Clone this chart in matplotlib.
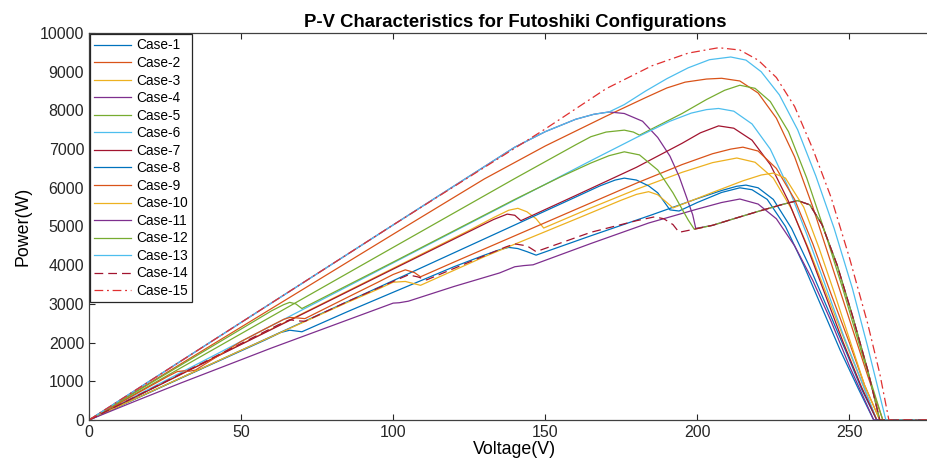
import matplotlib
matplotlib.use("Agg")
import matplotlib.pyplot as plt

plt.rcParams['font.family'] = ['Liberation Sans', 'DejaVu Sans']

##########
# P-V curves for 15 Futoshiki cases
# each case is a list of (voltage, power) points
##########

case01 = [(0,0),(40,1430),(58,2070),(63,2260),(66,2320),(68,2300),(70,2280),(85,2800),(100,3300),(120,3960),(130,4260),(135,4400),(138,4460),(141,4430),(144,4350),(147,4260),(165,4760),(185,5300),(200,5720),(208,5930),(213,6040),(216,6070),(220,6000),(225,5700),(231,4950),(237,3950),(243,2850),(249,1750),(254,800),(259,0),(280,0)]
case02 = [(0,0),(50,2400),(100,4800),(130,6230),(150,7080),(170,7850),(183,8330),(190,8580),(196,8730),(203,8810),(208,8830),(214,8760),(220,8450),(226,7800),(232,6800),(238,5500),(244,4050),(250,2600),(256,1150),(261,0),(280,0)]
case03 = [(0,0),(50,1960),(100,3920),(125,4900),(133,5230),(138,5420),(141,5470),(144,5380),(147,5200),(149.5,4960),(165,5480),(180,5960),(195,6400),(205,6650),(213,6770),(219,6660),(225,6250),(231,5450),(237,4350),(243,3150),(249,1950),(255,800),(259,0),(280,0)]
case04 = [(0,0),(50,2520),(100,5040),(140,7050),(150,7450),(160,7770),(166,7900),(171,7960),(176,7920),(182,7720),(187,7300),(191,6820),(194,6300),(196.5,5750),(198.5,5300),(199.5,4950),(205,5030),(212,5200),(220,5390),(228,5570),(233,5670),(237,5560),(241,5050),(246,4000),(251,2700),(256,1300),(260,0),(280,0)]
case05 = [(0,0),(50,2230),(100,4460),(140,6240),(160,7110),(165,7320),(170,7440),(176,7490),(179,7440),(181,7360),(186,7560),(195,7920),(203,8280),(209,8520),(214,8650),(219,8570),(224,8230),(230,7450),(236,6250),(242,4850),(248,3350),(254,1750),(261,0),(280,0)]
case06 = [(0,0),(50,2030),(100,4060),(150,6090),(165,6700),(180,7300),(191,7720),(198,7930),(203,8020),(207,8050),(212,7980),(218,7650),(224,7000),(230,6000),(236,4800),(242,3500),(248,2200),(254,1000),(259,0),(280,0)]
case07 = [(0,0),(50,1950),(100,3900),(125,4870),(133,5180),(137.5,5320),(140,5290),(142,5150),(160,5800),(180,6530),(195,7150),(201,7420),(207,7600),(212,7540),(218,7230),(224,6600),(230,5650),(236,4500),(242,3250),(248,2000),(254,850),(259,0),(280,0)]
case08 = [(0,0),(50,1800),(100,3600),(150,5400),(160,5760),(168,6050),(173,6200),(176,6250),(180,6200),(184,6050),(187,5870),(191,5430),(194,5400),(200,5620),(208,5880),(214,6000),(218,5950),(223,5700),(229,5000),(235,4000),(241,2900),(247,1800),(253,800),(258,0),(280,0)]
case09 = [(0,0),(26,1130),(29,1250),(31,1270),(33,1260),(35,1290),(50,2030),(60,2440),(64,2600),(66,2650),(68,2640),(71,2620),(85,3170),(95,3560),(100,3760),(104,3880),(107,3810),(109,3700),(120,4080),(150,5100),(165,5610),(180,6120),(195,6600),(205,6880),(211,7000),(215,7050),(220,6950),(226,6500),(232,5700),(238,4550),(244,3250),(250,2000),(255,900),(260,0),(280,0)]
case10 = [(0,0),(50,1800),(85,3040),(95,3380),(100,3560),(104,3580),(107,3520),(109,3480),(130,4220),(160,5190),(175,5680),(180,5830),(184,5900),(187,5820),(190,5620),(192,5480),(205,5880),(215,6180),(221,6330),(225,6380),(229,6250),(235,5500),(240,4450),(245,3300),(250,2100),(255,900),(260,0),(280,0)]
case11 = [(0,0),(15,480),(30,950),(60,1860),(100,3020),(102,3030),(105,3070),(120,3450),(135,3800),(140,3960),(143,3990),(146,4010),(165,4560),(184,5090),(200,5450),(208,5620),(214,5710),(220,5580),(226,5200),(232,4500),(238,3600),(244,2550),(250,1400),(254,700),(258,0),(280,0)]
case12 = [(0,0),(30,1410),(50,2350),(60,2820),(64,2980),(66,3040),(68,3000),(70,2880),(100,4080),(140,5700),(155,6280),(165,6640),(171,6830),(176,6930),(181,6850),(187,6460),(192,5870),(195,5450),(197,5170),(199,4930),(205,5030),(212,5200),(220,5390),(228,5570),(233,5670),(237,5560),(241,5050),(246,4000),(251,2700),(256,1300),(260,0),(280,0)]
case13 = [(0,0),(50,2520),(100,5040),(140,7050),(150,7450),(160,7770),(166,7900),(171,7960),(176,8150),(183,8500),(190,8820),(197,9100),(204,9310),(211,9380),(216,9300),(221,9000),(227,8400),(233,7500),(239,6300),(245,4950),(251,3400),(256,1900),(262,0),(280,0)]
case14 = [(0,0),(40,1580),(62,2450),(66,2590),(69,2560),(71,2550),(85,3060),(100,3580),(105,3750),(108,3700),(111,3620),(125,4080),(137,4470),(140,4550),(144,4500),(147,4350),(165,4850),(180,5150),(186,5250),(189,5200),(192,5050),(194,4850),(199,4930),(205,5030),(212,5200),(220,5390),(228,5570),(233,5670),(237,5560),(241,5050),(246,4000),(251,2700),(256,1300),(260,0),(280,0)]
case15 = [(0,0),(50,2520),(100,5040),(150,7520),(170,8560),(185,9150),(197,9480),(207,9620),(214,9560),(220,9300),(226,8850),(232,8100),(238,7000),(244,5750),(250,4200),(256,2500),(260,1200),(263,0),(280,0)]

cases = [case01, case02, case03, case04, case05, case06, case07, case08,
         case09, case10, case11, case12, case13, case14, case15]
labels = ['Case-%d' % (i + 1) for i in range(15)]

# matlab default colour order, cases 14/15 styled by hand
colors = ['#0072BD', '#D95319', '#EDB120', '#7E2F8E', '#77AC30', '#4DBEEE', '#A2142F',
          '#0072BD', '#D95319', '#EDB120', '#7E2F8E', '#77AC30', '#4DBEEE', '#A2142F', '#E03030']

fig = plt.figure(figsize=(9.27, 4.70), dpi=100)
ax = fig.add_axes([89/927, 50/470, 851.6/927, 387/470])

for i, pts in enumerate(cases):
    v, p = zip(*pts)
    line, = ax.plot(v, p, color=colors[i], lw=0.9, label=labels[i])
    if i == 13:
        line.set_dashes([7, 4])
    elif i == 14:
        line.set_dashes([7, 3, 1.5, 3])

ax.set_xlim(0, 280)
ax.set_ylim(0, 10000)
ax.set_xticks([0, 50, 100, 150, 200, 250])
ax.set_yticks(range(0, 10001, 1000))
ax.tick_params(direction='in', length=4.5, width=0.8, top=True, right=True,
               labelsize=11.5, colors='#262626')
for s in ax.spines.values():
    s.set_color('#404040')
    s.set_linewidth(0.9)

ax.set_xlabel('Voltage(V)', fontsize=12.8, labelpad=1)
ax.set_ylabel('Power(W)', fontsize=12.8, labelpad=6)
ax.set_title('P-V Characteristics for Futoshiki Configurations', fontsize=13.3,
             fontweight='bold', pad=4)

leg = ax.legend(loc='upper left', fontsize=9.8, frameon=True, fancybox=False,
                framealpha=1, edgecolor='#262626', borderpad=0.3, labelspacing=0.26,
                handlelength=2.7, handletextpad=0.4, borderaxespad=0.1)
leg.get_frame().set_linewidth(0.9)

fig.savefig('out.png', dpi=100)
